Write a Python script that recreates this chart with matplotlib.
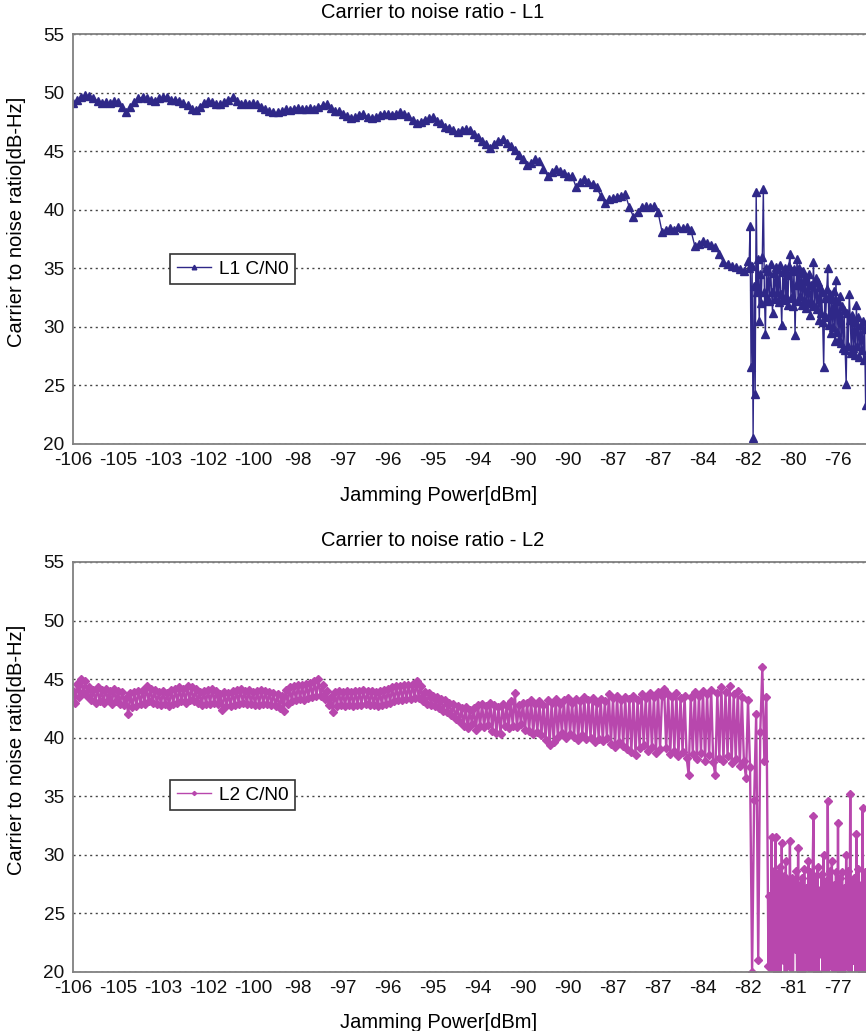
import numpy as np
import matplotlib
matplotlib.use("Agg")
import matplotlib.pyplot as plt

plt.rcParams['font.family'] = ['Liberation Sans', 'DejaVu Sans']

# tick labels (one label every 11 samples)
l1_labels = ['-106', '-105', '-103', '-102', '-100', '-98', '-97', '-96', '-95',
             '-94', '-90', '-90', '-87', '-87', '-84', '-82', '-80', '-76']
l2_labels = ['-106', '-105', '-103', '-102', '-100', '-98', '-97', '-96', '-95',
             '-94', '-90', '-90', '-87', '-87', '-84', '-82', '-81', '-77']

# L1 C/N0 before jamming gets strong (one value per sample)
l1_smooth = [
    49.1, 49.4, 49.6, 49.8, 49.7, 49.5, 49.3, 49.1, 49.2, 49.1,
    49.3, 49.2, 48.8, 48.3, 48.8, 49.2, 49.5, 49.6, 49.5, 49.4,
    49.3, 49.5, 49.6, 49.6, 49.4, 49.4, 49.3, 49.1, 48.9, 48.6,
    48.5, 48.8, 49.1, 49.3, 49.2, 49.0, 49.0, 49.2, 49.4, 49.6,
    49.3, 49.0, 49.1, 49.0, 49.1, 49.0, 48.8, 48.6, 48.4, 48.3,
    48.3, 48.4, 48.6, 48.5, 48.6, 48.7, 48.6, 48.6, 48.7, 48.6,
    48.8, 48.9, 49.0, 48.7, 48.4, 48.4, 48.2, 48.0, 47.8, 47.9,
    48.1, 48.2, 47.9, 47.8, 47.9, 48.1, 48.2, 48.2, 48.1, 48.2,
    48.3, 48.2, 48.0, 47.7, 47.4, 47.5, 47.7, 47.8, 47.9, 47.6,
    47.4, 47.1, 47.0, 46.8, 46.6, 46.8, 46.9, 46.8, 46.5, 46.2,
    45.9, 45.6, 45.3, 45.6, 45.9, 46.0, 45.7, 45.4, 45.1, 44.7,
    44.3, 43.8, 44.0, 44.3, 44.2, 43.5, 42.9, 43.2, 43.5, 43.3,
    43.1, 42.9, 42.9, 41.9, 42.4, 42.6, 42.4, 42.2, 41.9, 41.2,
    40.6, 40.9, 41.0, 41.1, 41.2, 41.3, 40.2, 39.4, 39.8, 40.2,
    40.3, 40.2, 40.3, 39.8, 38.1, 38.3, 38.4, 38.3, 38.5, 38.4,
    38.5, 38.3, 36.9, 37.1, 37.3, 37.2, 37.0, 36.8, 36.2, 35.5,
    35.4, 35.2, 35.1, 34.9, 34.8,
]
# L1 C/N0 under strong jamming (four values per sample)
l1_noisy = [
    35.6, 35.0, 38.6, 26.6, 35.2, 20.5, 33.5, 24.3,
    41.5, 33.0, 35.8, 30.5, 34.5, 32.0, 36.0, 41.8,
    33.0, 29.4, 35.0, 32.5, 34.8, 32.2, 35.4, 33.0,
    31.2, 34.6, 32.4, 35.1, 33.0, 34.9, 32.1, 35.3,
    32.8, 30.2, 34.7, 32.3, 35.0, 32.6, 34.4, 31.9,
    35.2, 36.2, 32.5, 34.8, 31.8, 34.9, 29.3, 33.6,
    35.8, 32.2, 35.0, 32.6, 34.6, 31.9, 34.8, 32.3,
    34.2, 31.6, 33.9, 32.1, 34.5, 31.0, 33.6, 32.0,
    35.5, 31.8, 34.2, 31.5, 33.8, 30.6, 33.4, 31.2,
    33.0, 30.4, 26.6, 32.5, 30.8, 33.2, 35.0, 30.2,
    32.8, 29.5, 32.4, 30.0, 33.1, 28.8, 34.0, 29.6,
    32.2, 29.0, 32.6, 28.6, 31.8, 28.2, 31.4, 28.0,
    25.1, 31.2, 28.4, 32.8, 30.6, 27.8, 31.0, 28.2,
    30.4, 27.6, 31.9, 28.4, 30.8, 27.4, 30.2, 28.0,
    30.5, 27.2, 29.8, 23.3, 27.5, 30.6, 27.8, 31.5,
    30.0, 27.4, 30.4, 27.0, 29.8, 26.8, 30.2, 27.6,
    29.6, 26.5, 30.0, 27.2, 29.4, 26.2, 30.5, 27.0,
    29.8, 26.6, 29.5, 27.4,
]

# L2 C/N0 (two values per sample)
l2_values = [
    44.0, 43.0, 44.6, 43.5, 45.0, 43.9, 44.8, 43.6, 44.3, 43.2,
    44.1, 43.0, 44.3, 43.1, 44.1, 43.0, 44.2, 43.2, 44.0, 42.9,
    44.2, 43.1, 44.0, 42.9, 43.9, 42.8, 43.4, 42.0, 43.8, 42.6,
    43.9, 42.7, 44.0, 42.9, 44.1, 42.9, 44.4, 43.1, 44.2, 43.0,
    44.1, 42.9, 43.9, 42.8, 44.0, 42.9, 43.8, 42.7, 44.1, 42.9,
    44.2, 43.0, 44.3, 43.1, 44.2, 43.0, 44.4, 43.2, 44.3, 43.1,
    44.2, 43.0, 43.9, 42.8, 44.0, 42.9, 44.1, 42.9, 44.2, 43.0,
    44.0, 42.9, 43.7, 42.4, 43.9, 42.7, 43.8, 42.7, 44.0, 42.8,
    44.1, 42.9, 44.2, 43.0, 44.0, 42.9, 44.1, 42.9, 43.9, 42.8,
    44.0, 42.8, 44.1, 42.9, 44.0, 42.9, 43.9, 42.8, 43.8, 42.7,
    43.7, 42.5, 43.6, 42.3, 44.1, 42.9, 44.3, 43.1, 44.4, 43.2,
    44.5, 43.3, 44.5, 43.2, 44.6, 43.4, 44.7, 43.5, 44.8, 43.6,
    45.0, 43.6, 44.5, 43.3, 44.0, 42.8, 43.5, 42.2, 43.9, 42.7,
    44.0, 42.8, 43.9, 42.7, 44.0, 42.8, 43.9, 42.7, 44.0, 42.8,
    44.0, 42.8, 44.1, 42.9, 44.0, 42.8, 44.0, 42.8, 43.9, 42.7,
    44.0, 42.8, 44.1, 42.9, 44.2, 43.0, 44.3, 43.1, 44.4, 43.2,
    44.4, 43.2, 44.5, 43.3, 44.5, 43.3, 44.6, 43.4, 44.8, 43.4,
    44.4, 43.1,
    43.9, 42.9, 43.8, 42.8, 43.6, 42.7, 43.5, 42.5, 43.3, 42.3,
    43.2, 42.2, 43.0, 41.9, 42.9, 41.6, 42.7, 41.3, 42.5, 41.0,
    42.6, 40.8, 42.4, 41.2, 42.5, 40.7,
    42.8, 41.0, 42.9, 40.9, 42.7, 41.1, 43.0, 40.6, 42.8, 40.4,
    42.6, 40.3, 42.9, 41.0, 42.7, 40.8, 43.1, 41.0, 43.8, 40.9,
    42.8, 41.2, 43.0, 40.7,
    43.0, 40.6, 43.2, 40.3, 42.9, 40.5, 43.1, 40.2, 42.8, 39.8,
    43.2, 39.4, 43.0, 39.6, 43.3, 40.1, 42.9, 40.4, 43.2, 40.0,
    43.4, 40.3, 43.0, 40.1, 43.3, 39.8, 43.1, 40.2, 43.5, 39.9,
    43.2, 40.0, 43.4, 39.6, 43.0, 39.9, 43.3, 39.7, 43.1, 40.0,
    43.7, 39.5, 43.4, 39.2, 43.6, 39.6, 43.2, 39.3, 43.5, 39.0,
    43.3, 38.8, 43.6, 38.5, 43.2, 39.1, 43.7, 39.4, 43.4, 38.9,
    43.8, 39.2, 43.5, 38.7, 43.9, 39.0, 43.6, 44.2, 39.1, 43.7,
    38.6, 43.5, 38.9, 43.8, 38.4, 43.4, 38.8, 43.6, 38.3, 36.8,
    43.5, 38.6, 43.9, 38.2, 43.6, 38.7, 44.0, 38.0, 43.7, 38.5,
    44.1, 37.9, 36.8, 43.8, 38.3, 44.3, 38.0, 43.9, 38.4, 44.4,
    37.8, 43.7, 38.2, 44.0, 37.6, 43.5, 38.0, 36.6,
    43.2, 37.5, 20.0, 34.7, 42.0, 21.0, 40.5, 46.0, 38.0, 43.5,
    20.5,
]
# L2 C/N0 after loss of tracking (four values per sample)
l2_jammed = [
    26.5, 19.5, 31.5,
    19.5, 28.6, 19.5, 31.5, 20.0, 28.4, 19.5, 29.0,
    19.5, 31.0, 21.0, 28.2, 19.5, 29.5, 19.5, 27.8,
    20.5, 31.2, 19.5, 28.0, 19.5, 27.5, 22.0, 28.6,
    19.5, 30.6, 19.5, 27.4, 20.0, 28.0, 19.5, 28.8,
    19.5, 27.2, 20.5, 29.5, 19.5, 28.5, 19.5, 27.6,
    33.3, 19.5, 28.2, 20.0, 29.0, 19.5, 27.0, 21.5,
    28.4, 19.5, 30.0, 19.5, 27.8, 19.5, 34.6, 19.5,
    28.6, 20.5, 29.5, 19.5, 27.4, 19.5, 28.5, 19.5,
    32.7, 19.5, 28.0, 20.0, 28.5, 19.5, 27.2, 19.5,
    30.0, 20.5, 28.6, 19.5, 35.2, 19.5, 27.8, 21.0,
    28.0, 19.5, 31.8, 19.5, 28.8, 19.5, 27.4, 20.0,
    34.0, 19.5, 28.5, 19.5, 28.5, 20.5, 27.6, 19.5,
    30.0, 19.5, 28.2, 19.5, 28.0, 20.0, 27.4, 19.5,
    29.5, 19.5, 28.4, 19.5, 28.5, 20.5, 27.8, 19.5,
    30.0, 19.5, 28.0, 19.5,
]

W, H = 866, 1031
step = 45 / 11  # pixels per sample
xmax = 215


def box(top, bottom):
    left = 73
    right = left + xmax * step
    return [left / W, 1 - bottom / H, (right - left) / W, (bottom - top) / H]


fig = plt.figure(figsize=(W / 100, H / 100), dpi=100)
ax1 = fig.add_axes(box(34, 444))
ax2 = fig.add_axes(box(562, 972))

x1 = np.concatenate([np.arange(len(l1_smooth)),
                     len(l1_smooth) + 0.25 * np.arange(len(l1_noisy))])
y1 = np.array(l1_smooth + l1_noisy)
x2a = 0.5 * np.arange(len(l2_values))
x2 = np.concatenate([x2a, x2a[-1] + 0.25 * (1 + np.arange(len(l2_jammed)))])
y2 = np.array(l2_values + l2_jammed)

c1 = '#2F2888'
c2 = '#B847AD'
ax1.plot(x1, y1, color=c1, lw=1.0, marker='^', ms=6.0, mec=c1, mfc=c1, label='L1 C/N0')
ax2.plot(x2, y2, color=c2, lw=1.7, marker='D', ms=3.8, mec=c2, mfc=c2, label='L2 C/N0')

panels = [(ax1, l1_labels, 'Carrier to noise ratio - L1', 34, 444, 269),
          (ax2, l2_labels, 'Carrier to noise ratio - L2', 562, 972, 795)]
for ax, labels, title, top, bottom, leg_y in panels:
    ax.set_xlim(0, xmax)
    ax.set_ylim(20, 55)
    ax.set_yticks(range(20, 56, 5))
    ax.set_xticks(np.arange(len(labels)) * 11)
    ax.set_xticklabels(labels)
    ax.tick_params(length=0, labelsize=13.7, colors='#111111', pad=6)
    ax.grid(axis='y', linestyle=(0, (1.5, 2.5)), color='#444444', lw=1)
    ax.set_axisbelow(True)
    for s in ax.spines.values():
        s.set_color('#808080')
        s.set_linewidth(1.3)
    leg = ax.legend(loc='center left', bbox_to_anchor=(170 / W, 1 - leg_y / H),
                    bbox_transform=fig.transFigure, fancybox=False, framealpha=1,
                    edgecolor='#333333', fontsize=13.7, handlelength=1.8,
                    borderpad=0.35, handletextpad=0.4, borderaxespad=0,
                    markerscale=0.55)
    leg.get_frame().set_linewidth(1.2)
    for h in leg.get_lines():
        h.set_linewidth(1.0)
    fig.text(0.5, 1 - (top - 22) / H, title, ha='center', va='center', fontsize=14.5)
    fig.text(439 / W, 1 - (bottom + 51) / H, 'Jamming Power[dBm]', ha='center',
             va='center', fontsize=14.5)
    fig.text(17 / W, 1 - ((top + bottom) / 2 - 17) / H, 'Carrier to noise ratio[dB-Hz]',
             ha='center', va='center', rotation=90, fontsize=14.5)

fig.savefig('out.png', dpi=100)
